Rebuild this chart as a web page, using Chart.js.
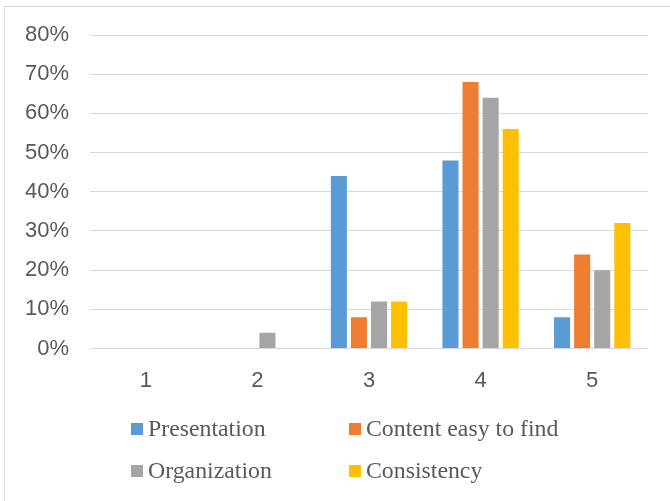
<!DOCTYPE html>
<html>
<head>
<meta charset="utf-8">
<script src="https://cdn.jsdelivr.net/npm/chart.js@4/dist/chart.umd.min.js"></script>
<style>
  body { margin: 0; background: #fff; }
  #wrap { position: relative; width: 670px; height: 501px; overflow: hidden; }
  #frame { position: absolute; left: 4px; top: 6px; width: 700px; height: 520px; border: 1px solid #d9d9d9; box-sizing: border-box; }
  #chart { position: absolute; left: 0; top: 0; }
</style>
</head>
<body>
<div id="wrap">
  <div id="frame"></div>
  <canvas id="chart" width="670" height="501"></canvas>
</div>
<script>
// ratings 1..5, share of answers in percent
const ratings = ["1", "2", "3", "4", "5"];
const presentation = [0, 0, 44, 48, 8];
const contentEasyToFind = [0, 0, 8, 68, 24];
const organization = [0, 4, 12, 64, 20];
const consistency = [0, 0, 12, 56, 32];

const textColor = "#595959";

// two-column legend under the axis, drawn like the office chart
const gridLegend = {
  id: "gridLegend",
  afterDraw(chart) {
    const ctx = chart.ctx;
    const cols = [131, 349];
    const rows = [423, 465];
    ctx.save();
    ctx.font = "23.8px 'Liberation Serif', 'Times New Roman', serif";
    ctx.textBaseline = "alphabetic";
    ctx.textAlign = "left";
    chart.data.datasets.forEach((ds, i) => {
      const x = cols[i % 2];
      const y = rows[Math.floor(i / 2)];
      ctx.fillStyle = ds.backgroundColor;
      ctx.fillRect(x, y, 12, 12);
      ctx.fillStyle = textColor;
      ctx.fillText(ds.label, x + 17, y + 13);
    });
    ctx.restore();
  }
};

const ctx = document.getElementById("chart").getContext("2d");
const myChart = new Chart(ctx, {
  type: "bar",
  data: {
    labels: ratings,
    datasets: [
      { label: "Presentation", data: presentation, backgroundColor: "#5B9BD5" },
      { label: "Content easy to find", data: contentEasyToFind, backgroundColor: "#ED7D31" },
      { label: "Organization", data: organization, backgroundColor: "#A5A5A5" },
      { label: "Consistency", data: consistency, backgroundColor: "#FFC000" }
    ]
  },
  plugins: [gridLegend],
  options: {
    responsive: false,
    animation: false,
    devicePixelRatio: 1,
    layout: { padding: { top: 35, right: 22, left: 0, bottom: 0 } },
    categoryPercentage: 0.72,
    barPercentage: 0.8,
    plugins: {
      legend: { display: false },
      tooltip: { enabled: false }
    },
    scales: {
      x: {
        grid: { display: false },
        border: { display: false },
        ticks: {
          color: textColor,
          padding: 11,
          font: { family: "'Liberation Sans', Arial, sans-serif", size: 22 }
        },
        afterFit(scale) { scale.height = 152.5; }
      },
      y: {
        min: 0,
        max: 80,
        grid: { color: "#d9d9d9", lineWidth: 1, drawTicks: false },
        border: { display: false },
        ticks: {
          stepSize: 10,
          color: textColor,
          padding: 21,
          font: { family: "'Liberation Sans', Arial, sans-serif", size: 22 },
          callback: (v) => v + "%"
        },
        afterFit(scale) { scale.width = 90; }
      }
    }
  }
});
</script>
</body>
</html>
